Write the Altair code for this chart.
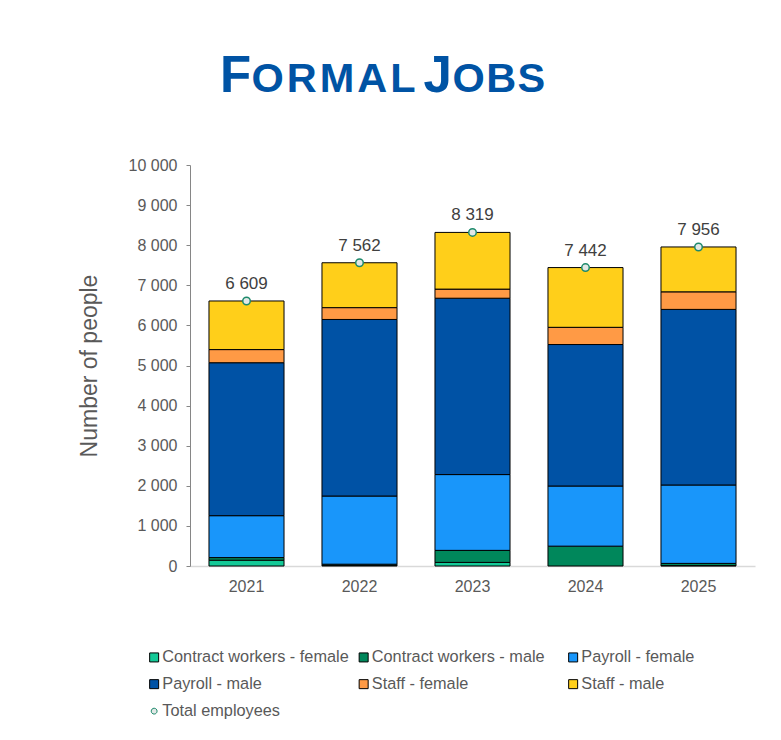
import altair as alt
import pandas as pd

# Headcount by employment category (bottom to top of each stacked bar)
years = ["2021", "2022", "2023", "2024", "2025"]
series = [
    "Contract workers - female",
    "Contract workers - male",
    "Payroll - female",
    "Payroll - male",
    "Staff - female",
    "Staff - male",
]
contract_female = [145, 15, 90, 0, 10]
contract_male = [65, 30, 300, 495, 55]
payroll_female = [1045, 1700, 1890, 1500, 1955]
payroll_male = [3814, 4403, 4398, 3528, 4379]
staff_female = [328, 295, 227, 429, 438]
staff_male = [1212, 1119, 1414, 1490, 1119]
total_employees = [6609, 7562, 8319, 7442, 7956]

total_name = "Total employees"
legend_domain = series + [total_name]
fill_colors = ["#14C997", "#00875B", "#1996FA", "#0052A5", "#FF9A45", "#FFCF1A", "#E2E8E6"]
stroke_colors = ["#000000"] * 6 + ["#1E8A6C"]
# small circle drawn inside the unit square so it stays smaller than the squares
small_circle = "M-0.65,0A0.65,0.65 0 1,0 0.65,0A0.65,0.65 0 1,0 -0.65,0Z"
shapes = ["square"] * 6 + [small_circle]

values_by_series = [contract_female, contract_male, payroll_female,
                    payroll_male, staff_female, staff_male]
rows = []
for idx, (name, vals) in enumerate(zip(series, values_by_series)):
    for year, v in zip(years, vals):
        if v > 0:
            rows.append({"year": year, "series": name, "idx": idx, "people": v})
bars_df = pd.DataFrame(rows)

totals_df = pd.DataFrame({
    "year": years,
    "series": [total_name] * len(years),
    "people": total_employees,
})
totals_df["label"] = [f"{v:,}".replace(",", " ") for v in total_employees]

FONT = "Liberation Sans"
GREY = "#595959"
TITLE_BLUE = "#0053A4"

legend = alt.Legend(
    title=None, orient="none", legendX=-44, legendY=484, direction="horizontal",
    columns=3, gridAlign="all", columnPadding=6.5, rowPadding=10,
    labelFontSize=16.3, labelColor=GREY, labelFont=FONT, labelLimit=400,
    labelOffset=0, symbolSize=81, symbolStrokeWidth=1, padding=0,
)
color_scale = alt.Scale(domain=legend_domain, range=fill_colors)

x_enc = alt.X(
    "year:N", title=None,
    scale=alt.Scale(paddingInner=0.336, paddingOuter=0.168),
    axis=alt.Axis(labelAngle=0, labelFontSize=16, labelColor=GREY, labelFont=FONT,
                  ticks=False, domainColor="#D9D9D9", domainWidth=1.5, labelPadding=12),
)

bars = alt.Chart(bars_df).mark_bar(stroke="black", strokeWidth=1).encode(
    x=x_enc,
    y=alt.Y(
        "people:Q", stack="zero",
        scale=alt.Scale(domain=[0, 10000], nice=False),
        axis=alt.Axis(
            values=list(range(0, 10001, 1000)), grid=False,
            labelExpr="replace(format(datum.value, ','), ',', ' ')",
            labelFontSize=16, labelColor=GREY, labelFont=FONT, labelPadding=9,
            tickSize=4, tickColor="#868686", domainColor="#868686",
            title="Number of people", titleFontSize=23, titleFont=FONT,
            titleFontWeight="normal", titleColor=GREY, titlePadding=27,
        ),
    ),
    color=alt.Color("series:N", scale=color_scale, legend=legend),
    order=alt.Order("idx:Q"),
)

points = alt.Chart(totals_df).mark_point(filled=True, size=135, strokeWidth=1.5, opacity=1).encode(
    x=x_enc,
    y=alt.Y("people:Q"),
    color=alt.Color("series:N", scale=color_scale, legend=legend),
    shape=alt.Shape("series:N", scale=alt.Scale(domain=legend_domain, range=shapes), legend=legend),
    stroke=alt.Stroke("series:N", scale=alt.Scale(domain=legend_domain, range=stroke_colors), legend=legend),
)

labels = alt.Chart(totals_df).mark_text(
    dy=-17, fontSize=17, font=FONT, color="#404040",
).encode(x=x_enc, y=alt.Y("people:Q"), text="label:N")

# Small-caps heading: capitals set letter by letter so the tracking can be widened
ADVANCE = {"F": 0.611, "O": 0.778, "R": 0.722, "M": 0.833, "A": 0.722,
           "L": 0.611, "J": 0.556, "B": 0.722, "S": 0.667}


def heading_word(text, size, x, spacing=0.0):
    parts = []
    for ch in text:
        parts.append(alt.Chart(pd.DataFrame({"t": [ch]})).mark_text(
            align="left", baseline="alphabetic", font=FONT, fontWeight="bold",
            fontSize=size, color=TITLE_BLUE,
        ).encode(x=alt.value(x), y=alt.value(-73.5), text="t:N"))
        x += ADVANCE[ch] * size + spacing
    return parts


heading = (heading_word("F", 51, 30) + heading_word("ORMAL", 41.5, 61.5, 3.0)
           + heading_word("J", 51, 233.5) + heading_word("OBS", 41.5, 262.5, 1.4))

chart = alt.layer(bars, points, labels, *heading).resolve_scale(
    color="shared"
).properties(
    width=565, height=401,
    autosize=alt.AutoSizeParams(type="none"),
    padding={"left": 190, "top": 165, "right": 26, "bottom": 174},
    background="white",
).configure_view(stroke=None)

chart.save("out.html", embed_options={"renderer": "svg", "actions": False})
